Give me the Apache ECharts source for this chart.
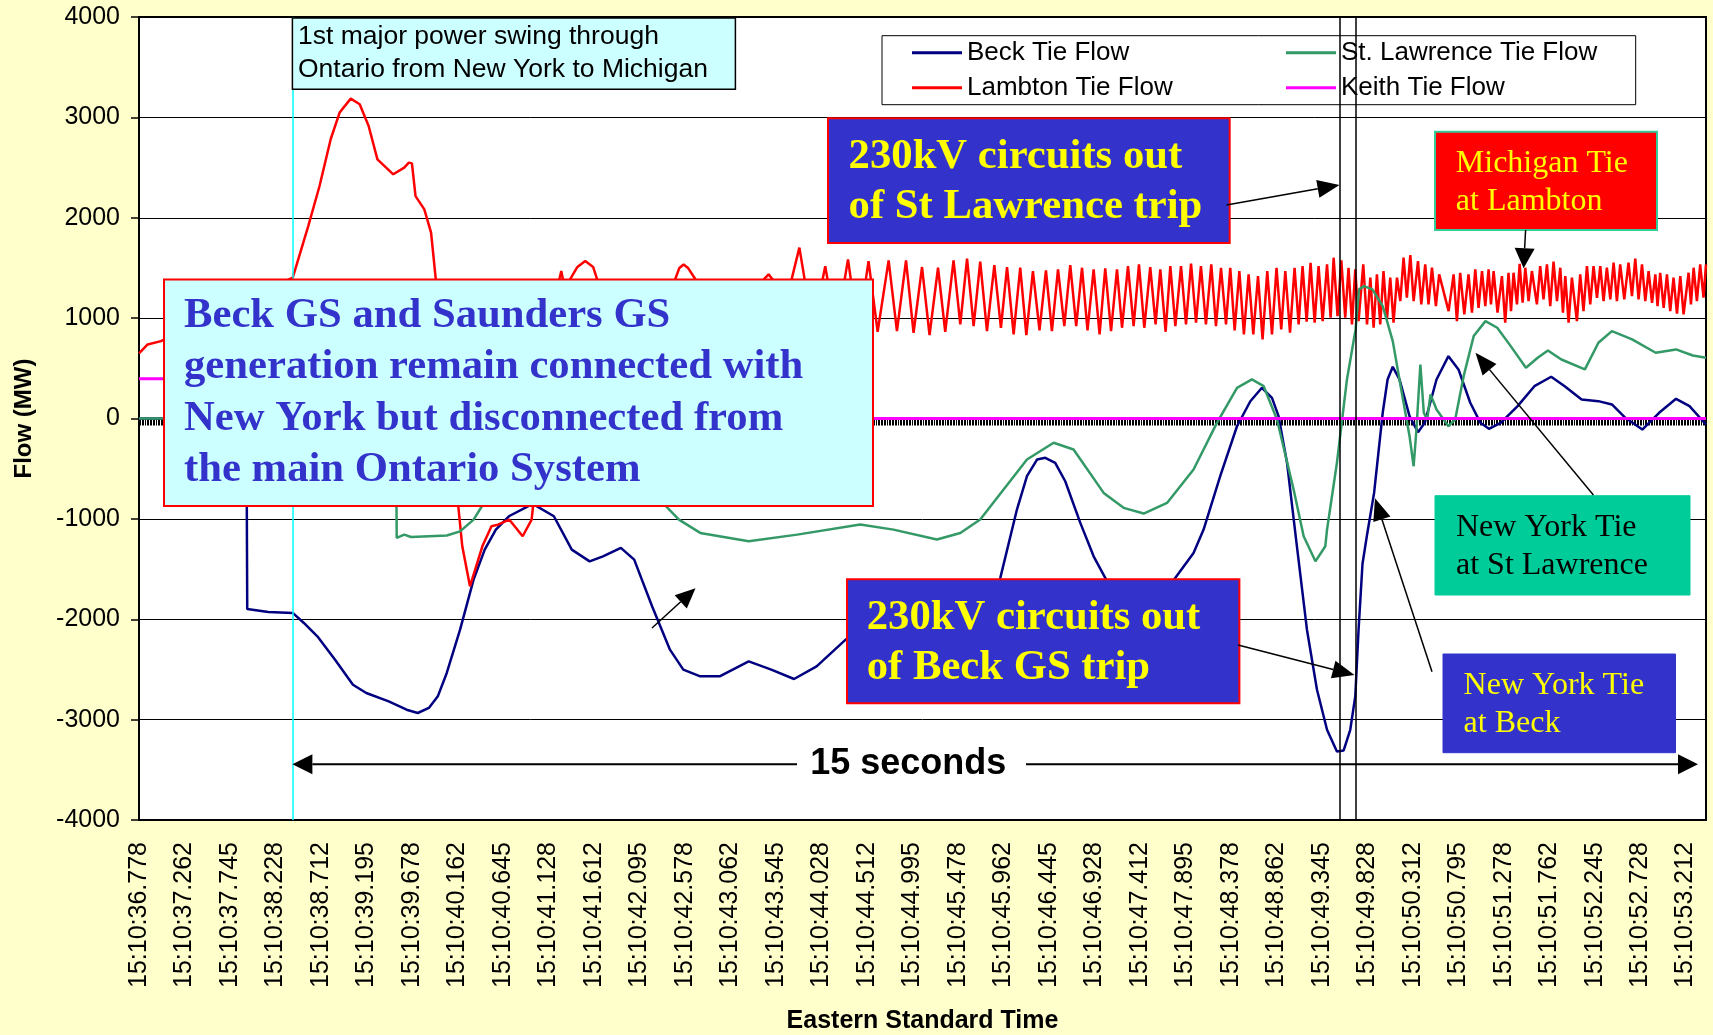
<!DOCTYPE html>
<html>
<head>
<meta charset="utf-8">
<title>Ontario tie flows, 15:10:36 - 15:10:53</title>
<script src="https://cdn.jsdelivr.net/npm/echarts@6/dist/echarts.min.js"></script>
<style>
html, body { margin: 0; padding: 0; background: #FFFFCC; }
#chart { width: 1713px; height: 1035px; }
</style>
</head>
<body>
<div id="chart"></div>
<script>
// x values are 60 Hz sample numbers counted from 15:10:36.778; one time label every 29 samples
const LABEL_STEP = 29;
const LAST_SAMPLE = 999;
const timeLabels = [
  '15:10:36.778', '15:10:37.262', '15:10:37.745', '15:10:38.228', '15:10:38.712',
  '15:10:39.195', '15:10:39.678', '15:10:40.162', '15:10:40.645', '15:10:41.128',
  '15:10:41.612', '15:10:42.095', '15:10:42.578', '15:10:43.062', '15:10:43.545',
  '15:10:44.028', '15:10:44.512', '15:10:44.995', '15:10:45.478', '15:10:45.962',
  '15:10:46.445', '15:10:46.928', '15:10:47.412', '15:10:47.895', '15:10:48.378',
  '15:10:48.862', '15:10:49.345', '15:10:49.828', '15:10:50.312', '15:10:50.795',
  '15:10:51.278', '15:10:51.762', '15:10:52.245', '15:10:52.728', '15:10:53.212'
];

// [sample, MW]
const beckFlow = [
  [0,0],[68.5,0],[69,-1897],[82.4,-1927],[98,-1937],[105.1,-2037],[113.7,-2170],[125,-2403],
  [136.4,-2652],[144.9,-2735],[159.2,-2818],[170.6,-2901],[177.7,-2934],[184.8,-2884],[190.5,-2768],
  [196.2,-2535],[204.7,-2104],[213.3,-1605],[220.4,-1306],[227.5,-1107],[235.8,-974],[251,-850],
  [264.5,-974],[275.9,-1306],[287.3,-1423],[295.8,-1373],[307.2,-1289],[315.7,-1406],[327.1,-1871],
  [338.5,-2303],[347,-2502],[357.8,-2569],[370.2,-2569],[388.7,-2420],[403.1,-2502],[417.6,-2595],
  [432,-2469],[450.5,-2203],[470,-1950],[490,-2050],[515,-2350],[535,-2150],[549.1,-1588],
  [559.7,-907],[566.1,-575],[572.5,-409],[577.8,-392],[584.1,-442],[590.5,-625],[600.1,-1040],
  [608.6,-1373],[616,-1588],[628,-1950],[638,-2050],[648,-1950],[660.6,-1588],[672.3,-1339],
  [678.7,-1107],[689.3,-575],[700,-77],[708.5,172],[715.9,306],[722.3,206],[726.5,23],[731.9,-442],
  [738.2,-1273],[744.6,-2104],[751,-2702],[757.4,-3101],[763.7,-3317],[768,-3307],[772.2,-3101],
  [775.4,-2769],[777.5,-2104],[780,-1450],[783,-1150],[787.4,-741],[792.9,57],[796,389],[799.3,515],
  [803.6,389],[810,23],[815.4,-136],[819.7,-43],[827.2,389],[834.8,621],[841.2,489],[848.7,157],
  [855.2,-43],[860.6,-103],[868.1,-43],[878.9,123],[889.6,322],[900.3,416],[908.9,322],[919.7,189],
  [930.4,173],[939,140],[947.6,7],[958.4,-110],[969.1,57],[979.9,196],[988.5,123],[999,-60]
];

const stLawrenceFlow = [
  [0,0],[163.8,0],[164.3,-1190],[169.1,-1157],[173.4,-1180],[184.8,-1173],[196.2,-1166],[204.7,-1124],
  [213.3,-1007],[218.9,-867],[240,-650],[285,-800],[310,-700],[335.6,-867],[344.2,-1007],[357.8,-1140],
  [388.7,-1223],[419.6,-1157],[459.8,-1057],[481,-1107],[508.7,-1206],[523.6,-1140],[536.3,-1007],
  [551.2,-708],[566.1,-409],[583.1,-242],[595.8,-309],[615,-741],[627.7,-890],[640.5,-947],[655.4,-841],
  [672.3,-508],[687.2,-43],[700,306],[709.5,389],[717,322],[725.5,-10],[736.1,-708],[742.5,-1173],
  [750,-1423],[756.3,-1273],[757.4,-1107],[763.7,-442],[770.1,389],[775.6,887],[777.8,1286],[781,1319],
  [786.3,1286],[792.9,1120],[799.3,771],[804.7,289],[810,-176],[812.6,-476],[814.4,-110],[816.9,538],
  [819.1,57],[821.2,-10],[823.4,239],[827.2,90],[834.8,-77],[839.1,-10],[844.5,422],[850.9,821],
  [858.4,970],[865.9,904],[874.5,721],[884.2,505],[891.7,605],[898.2,678],[906.8,588],[921.8,489],
  [930.4,755],[939,870],[951.9,788],[966.9,655],[979.9,688],[990.6,628],[999,605]
];

const lambtonFlow = [
  [0,650],[5.5,738],[14,771],[98,1403],[100.9,1552],[107.9,1917],[115.1,2316],[122.2,2782],[127.9,3048],
  [135,3187],[140.7,3131],[146.4,2914],[152,2582],[162.1,2433],[169.1,2499],[172,2549],[174,2542],
  [176.3,2216],[181.9,2084],[186.2,1851],[189.1,1403],[206.1,-1273],[211,-1672],[218.9,-1273],
  [224.7,-1074],[228.9,-1057],[236,-1007],[244.6,-1173],[250.3,-1007],
  [266,1250],[269.2,1469],[272,1250],[275,1390],[279.5,1510],[284.5,1568],[289.5,1510],[292,1390],
  [305,1000],[318,1330],[330,1000],
  [341.9,1390],[344.5,1500],[347.2,1535],[350,1500],[354.6,1390],
  [365,1050],[376,1300],[388,1050],
  [398.6,1390],[401.4,1436],[403.7,1390],
  [410,1000],[421,1702],[429.5,900],[437.5,1518],[444.5,880],[452,1585],[458.5,870],[465.1,1568],
  [470.9,864],[477.9,1575],[483.2,870],[489,1575],[493.8,854],[499.2,1509],[504,831],[509.4,1502],
  [514,864],[519.3,1575],[523.6,937],[527.9,1592],[532.1,920],[536.3,1562],[540.6,870],[545.3,1528],
  [549.5,904],[553.4,1509],[557.6,837],[561.8,1502],[565.7,831],[569.9,1469],[574.1,877],[578.2,1476],
  [582,870],[585.9,1486],[589.9,920],[593.7,1528],[597.5,920],[601.2,1502],[604.7,877],[608.6,1486],
  [612.4,837],[616,1496],[619.7,870],[623.5,1486],[626.7,904],[630.5,1518],[634.1,920],[637.5,1535],
  [640.9,904],[644.7,1509],[648.1,937],[651.1,1486],[654.5,864],
  [657.5,1518],[660.7,920],[664.3,1518],[667.5,937],[670.7,1542],[673.9,954],[677,1518],[680.2,937],
  [683.6,1535],[686.6,920],[689.8,1502],[693,937],[695.7,1502],[698.5,877],[701.5,1469],[704.4,837],
  [707.4,1436],[710.4,837],[713.4,1419],[716.3,788],[719.3,1469],[722.3,837],[725.2,1502],[728.2,887],
  [730.8,1469],[733.8,854],[736.7,1502],[739.3,937],[741.8,1518],[744.4,964],[746.9,1552],[749.5,954],
  [752,1518],[754.6,970],[757.4,1535],[759.7,1004],[761.6,1602],[764.1,1020],[766.5,1575],[769,1004],
  [771.1,1502],[773.3,937],[775.4,1486],[777.5,970],[780.5,1535],[782.9,937],[785,1403],[787.1,904],
  [789.2,1436],[791.3,937],[793.4,1469],[795.6,987],[797.7,1403],[799.8,954],[802,1403],[804.1,1169],
  [806.2,1602],[808.3,1203],[810.5,1628],[812.6,1169],[815.4,1568],[817.5,1137],[820,1535],[822.1,1137],
  [824.3,1502],[826.8,1120],[828.9,1436],[834.9,1070],
  [838.1,1436],[840.2,970],[842.3,1452],[844.9,1037],[847.6,1436],[849.8,1054],[851.9,1486],[854,1103],
  [856.2,1469],[858.3,1120],[860.4,1486],[861.9,1137],[863.6,1469],[866.1,1054],[868.9,1419],[871,954],
  [873.1,1452],[874.7,1070],[876.3,1452],[878.5,1137],[880.2,1542],[882.1,1153],[883.8,1502],[885.9,1169],
  [888,1469],[891.2,1137],[893.3,1519],[895.4,1186],[897.6,1535],[899.7,1120],[901.8,1562],[904,1169],
  [906.1,1502],[907.8,1054],[909.3,1419],[911.4,954],[913.5,1403],[916.7,970],[918.8,1436],[920.9,1070],
  [923.1,1519],[925.2,1137],[927.3,1519],[929.5,1203],[931.6,1519],[933.7,1169],[935.8,1502],[938,1186],
  [940.1,1552],[942.2,1169],[944.3,1535],[946.9,1186],[949.6,1552],[951.8,1219],[953.9,1592],[956,1186],
  [958.2,1535],[960.3,1169],[962.4,1469],[964.6,1153],[966.7,1436],[968.1,1120],[969.8,1452],[972,1103],
  [974.1,1436],[976.2,1070],[978.3,1403],[980.5,1044],[982.6,1419],[984.7,1037],[987.9,1452],[989.4,1137],
  [991.1,1502],[993.2,1169],[995.3,1535],[997.4,1203],[999,1535]
];

const keithFlow = [[0,396],[69,396],[69.5,0],[999,0]];

// event markers (sample numbers)
const swingStart = 98;
const stLawrenceTrip = 765.5;
const beckTrip = 775.8;

const SANS = '"Liberation Sans", Arial, sans-serif';
const SERIF = '"Liberation Serif", "Times New Roman", serif';
const NOTE_BOLD = 'bold 42.7px ' + SERIF;
const NOTE_PLAIN = '32px ' + SERIF;

function box(x, y, w, h, fill, stroke, lw) {
  return { type: 'rect', z: 100, shape: { x: x, y: y, width: w, height: h },
           style: { fill: fill, stroke: stroke || null, lineWidth: lw || 0 } };
}
function label(x, y, text, font, color) {
  return { type: 'text', z: 101, x: x, y: y,
           style: { text: text, font: font, fill: color, align: 'left', verticalAlign: 'middle' } };
}
function arrow(x1, y1, x2, y2, len, half, lw) {
  const a = Math.atan2(y2 - y1, x2 - x1);
  const bx = x2 - len * Math.cos(a), by = y2 - len * Math.sin(a);
  const nx = -Math.sin(a) * half, ny = Math.cos(a) * half;
  return [
    { type: 'line', z: 100, shape: { x1: x1, y1: y1, x2: bx, y2: by }, style: { stroke: '#000', lineWidth: lw } },
    { type: 'polygon', z: 100, shape: { points: [[x2, y2], [bx + nx, by + ny], [bx - nx, by - ny]] }, style: { fill: '#000' } }
  ];
}

const graphics = [].concat(
  // note boxes
  box(164, 279.5, 709, 226.5, '#CCFFFF', '#FF0000', 2),
  label(184, 315.8, 'Beck GS and Saunders GS', NOTE_BOLD, '#3333CC'),
  label(184, 367.2, 'generation remain connected with', NOTE_BOLD, '#3333CC'),
  label(184, 418.6, 'New York but disconnected from', NOTE_BOLD, '#3333CC'),
  label(184, 470, 'the main Ontario System', NOTE_BOLD, '#3333CC'),

  box(292.4, 18, 443, 71.3, '#CCFFFF', '#000', 1.5),
  label(298, 36.4, '1st major power swing through', '26.5px ' + SANS, '#000'),
  label(298, 69.5, 'Ontario from New York to Michigan', '26.5px ' + SANS, '#000'),

  box(828, 118.3, 401.7, 124.7, '#3333CC', '#FF0000', 2),
  label(848.6, 156.7, '230kV circuits out', NOTE_BOLD, '#FFFF00'),
  label(848.6, 207, 'of St Lawrence trip', NOTE_BOLD, '#FFFF00'),

  box(1435, 131.7, 222, 98.3, '#FF0000', '#33CC99', 2),
  label(1455.8, 163.7, 'Michigan Tie', NOTE_PLAIN, '#FFFF00'),
  label(1455.8, 201.7, 'at Lambton', NOTE_PLAIN, '#FFFF00'),

  box(1435, 495.7, 255, 99.3, '#00CC99', '#00CC99', 1),
  label(1456, 527.5, 'New York Tie', NOTE_PLAIN, '#000'),
  label(1456, 565.8, 'at St Lawrence', NOTE_PLAIN, '#000'),

  box(1443, 654, 232.5, 98.7, '#3333CC', '#3333CC', 1),
  label(1463.6, 685.5, 'New York Tie', NOTE_PLAIN, '#FFFF00'),
  label(1463.6, 723.3, 'at Beck', NOTE_PLAIN, '#FFFF00'),

  box(847, 579.3, 392.4, 124, '#3333CC', '#FF0000', 2),
  label(866.7, 618.3, '230kV circuits out', NOTE_BOLD, '#FFFF00'),
  label(866.7, 668.3, 'of Beck GS trip', NOTE_BOLD, '#FFFF00'),

  // pointers
  arrow(1226.5, 205, 1339.5, 185, 22, 9, 1.5),
  arrow(1525.6, 230, 1523.6, 268.3, 20, 10, 1.5),
  arrow(1238, 645, 1354.5, 675, 22, 9, 1.5),
  arrow(1432, 671.7, 1375, 498.3, 22, 9, 1.5),
  arrow(1593.4, 495, 1475.5, 352.7, 22, 9, 1.5),
  arrow(652, 628, 695.5, 588.3, 20, 9, 1.5),

  // 15 second span
  arrow(797, 764.3, 292.4, 764.3, 20, 10, 2),
  arrow(1026, 764.3, 1698, 764.3, 20, 10, 2),
  { type: 'text', z: 101, x: 908.3, y: 764,
    style: { text: '15 seconds', font: 'bold 36px ' + SANS, fill: '#000', align: 'center', verticalAlign: 'middle' } }
);

const chart = echarts.init(document.getElementById('chart'), null, { renderer: 'canvas' });

const line = (name, data, color, width) => ({
  name: name, type: 'line', data: data, xAxisIndex: 0, yAxisIndex: 0,
  symbol: 'none', showSymbol: false, animation: false, silent: true,
  lineStyle: { color: color, width: width }, itemStyle: { color: color }
});

const keith = line('Keith Tie Flow', keithFlow, '#FF00FF', 3);
keith.markLine = {
  silent: true, animation: false, symbol: ['none', 'none'], label: { show: false },
  data: [
    { xAxis: swingStart, lineStyle: { color: '#00FFFF', width: 1.5, type: 'solid' } },
    { xAxis: stLawrenceTrip, lineStyle: { color: '#000', width: 1.5, type: 'solid' } },
    { xAxis: beckTrip, lineStyle: { color: '#000', width: 1.5, type: 'solid' } }
  ]
};

const legendText = { fontSize: 26, fontFamily: SANS, color: '#000', lineHeight: 26, width: 200 };

chart.setOption({
  animation: false,
  backgroundColor: '#FFFFCC',
  grid: { left: 139, top: 17, right: 7, bottom: 215, show: true, backgroundColor: '#FFFFFF',
          borderColor: '#000', borderWidth: 2, containLabel: false, outerBoundsMode: 'none' },
  legend: [
    { data: ['Beck Tie Flow', 'Lambton Tie Flow'], orient: 'vertical', left: 882, top: 35.7,
      padding: [4, 463, 4, 30], icon: 'rect', itemWidth: 50, itemHeight: 3, itemGap: 9,
      backgroundColor: '#FFFFFF', borderColor: '#000', borderWidth: 1,
      textStyle: legendText, selectedMode: false, z: 4 },
    { data: ['St. Lawrence Tie Flow', 'Keith Tie Flow'], orient: 'vertical', left: 1286, top: 35.7,
      padding: [4, 4, 4, 0], icon: 'rect', itemWidth: 50, itemHeight: 3, itemGap: 9,
      textStyle: legendText, selectedMode: false, z: 5 }
  ],
  xAxis: [
    { type: 'value', min: 0, max: LAST_SAMPLE, interval: LABEL_STEP, position: 'bottom',
      axisLine: { show: false, onZero: false }, axisTick: { show: false }, splitLine: { show: false },
      axisLabel: { rotate: 90, margin: 22, fontSize: 25, fontFamily: SANS, color: '#000',
                   showMaxLabel: false,
                   formatter: v => (v % LABEL_STEP === 0 ? (timeLabels[v / LABEL_STEP] || '') : '') },
      name: 'Eastern Standard Time', nameLocation: 'middle', nameGap: 189,
      nameTextStyle: { fontSize: 25, fontWeight: 'bold', fontFamily: SANS, color: '#000' } },
    // category-style axis crossing at zero: one tick per sample
    { type: 'value', min: 0, max: LAST_SAMPLE, interval: 1, position: 'bottom',
      axisLine: { show: true, onZero: true, lineStyle: { color: '#000', width: 1 } },
      axisTick: { show: true, length: 7, lineStyle: { color: '#000', width: 1 } },
      axisLabel: { show: false }, splitLine: { show: false } }
  ],
  yAxis: {
    type: 'value', min: -4000, max: 4000, interval: 1000,
    axisLine: { show: true, onZero: false, lineStyle: { color: '#000', width: 2 } },
    axisTick: { show: true, length: 8, lineStyle: { color: '#000', width: 1.5 } },
    axisLabel: { fontSize: 25, fontFamily: SANS, color: '#000', margin: 19, formatter: v => String(v) },
    splitLine: { show: true, lineStyle: { color: '#000', width: 1 } },
    name: 'Flow (MW)', nameLocation: 'middle', nameRotate: 90, nameGap: 103,
    nameTextStyle: { fontSize: 24, fontWeight: 'bold', fontFamily: SANS, color: '#000' }
  },
  series: [
    line('Beck Tie Flow', beckFlow, '#000080', 2.5),
    line('Lambton Tie Flow', lambtonFlow, '#FF0000', 2.5),
    line('St. Lawrence Tie Flow', stLawrenceFlow, '#339966', 2.5),
    keith
  ],
  graphic: { elements: graphics }
});
</script>
</body>
</html>
